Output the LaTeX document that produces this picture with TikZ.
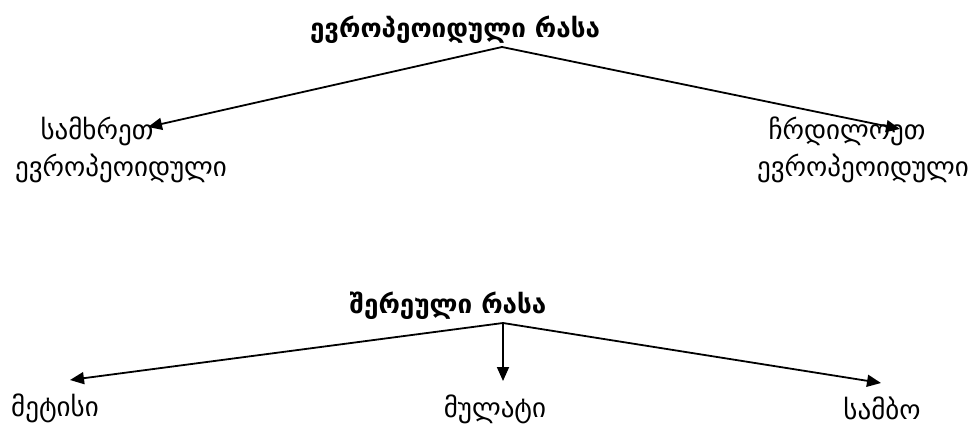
\documentclass[tikz,border=0pt]{standalone}
\usepackage{fontspec}
\setmainfont{DejaVu Sans}
\usetikzlibrary{arrows.meta}
\begin{document}
\begin{tikzpicture}[x=1pt,y=-1pt,
  lbl/.style={inner sep=0pt,font=\fontsize{27}{30}\selectfont},
  ttl/.style={inner sep=0pt,font=\bfseries\fontsize{26}{30}\selectfont},
  arr/.style={line width=1.8pt,-{Triangle[length=14pt,width=12pt]}}]
\useasboundingbox (0,0) rectangle (979,425);
\node[ttl] (t1) at (455,30) {ევროპეოიდული რასა};
\coordinate (a1) at (502,47);
\node[lbl] (s1) at (97,131) {სამხრეთ};
\node[lbl] (s2) at (121,168) {ევროპეოიდული};
\node[lbl] (n1) at (847,131) {ჩრდილოეთ};
\node[lbl] (n2) at (863,168) {ევროპეოიდული};
\coordinate (e1) at (148,127);
\coordinate (e2) at (900,129);
\draw[arr] (a1) -- (e1);
\draw[arr] (a1) -- (e2);
\node[ttl] (t2) at (448,306) {შერეული რასა};
\coordinate (a2) at (503,323);
\node[lbl] (m1) at (55,408) {მეტისი};
\node[lbl] (m2) at (495,409) {მულატი};
\node[lbl] (m3) at (882,408) {სამბო};
\coordinate (f1) at (70,380);
\coordinate (f2) at (503,381);
\coordinate (f3) at (881,383);
\draw[arr] (a2) -- (f1);
\draw[arr] (a2) -- (f2);
\draw[arr] (a2) -- (f3);
\end{tikzpicture}
\end{document}
